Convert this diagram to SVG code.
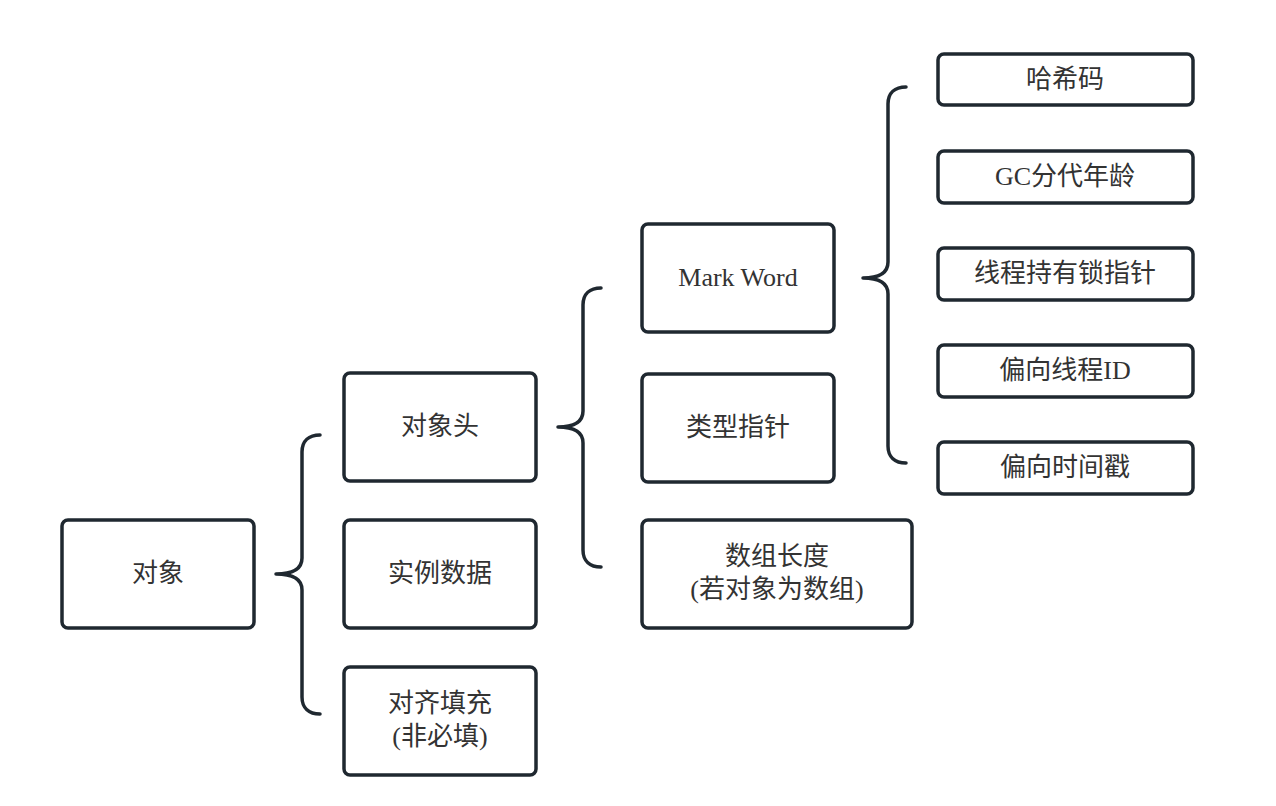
<svg xmlns="http://www.w3.org/2000/svg" width="1276" height="806" viewBox="0 0 1276 806">
<style>
.box{fill:#fff;stroke:#1f2830;stroke-width:3.5}
.t{font-family:"Liberation Serif","Noto Sans CJK SC",serif;font-size:26px;fill:#333;text-anchor:middle;dominant-baseline:central}
.br{fill:none;stroke:#1f2830;stroke-width:3.5;stroke-linecap:round;stroke-linejoin:round}
</style>
<rect width="1276" height="806" fill="#fff"/>
<g id="connectors">
<path class="br" d="M320 435 C309 435 302 441 302 452 L302 558 C302 568 294 574 276 574 C294 574 302 580 302 590 L302 697 C302 708 309 714 320 714"/>
<path class="br" d="M601 288 C590 288 583 294 583 305 L583 411 C583 421 575 427 558 427 C575 427 583 433 583 443 L583 550 C583 561 590 567 601 567"/>
<path class="br" d="M906 87 C895 87 888 93 888 104 L888 262 C888 272 880 278 863 278 C880 278 888 284 888 294 L888 446 C888 457 895 463 906 463"/>
</g>
<g id="n-duixiang"><rect class="box" x="62" y="520" width="192" height="108" rx="6"/><text class="t" x="158" y="573">对象</text></g>
<g id="n-duixiangtou"><rect class="box" x="344" y="373" width="192" height="108" rx="6"/><text class="t" x="440" y="426">对象头</text></g>
<g id="n-shilishuju"><rect class="box" x="344" y="520" width="192" height="108" rx="6"/><text class="t" x="440" y="573">实例数据</text></g>
<g id="n-duiqitianchong"><rect class="box" x="344" y="667" width="192" height="108" rx="6"/><text class="t" x="440" y="703">对齐填充</text><text class="t" x="440" y="736">(非必填)</text></g>
<g id="n-markword"><rect class="box" x="642" y="224" width="192" height="108" rx="6"/><text class="t" x="738" y="277">Mark Word</text></g>
<g id="n-leixingzhizhen"><rect class="box" x="642" y="374" width="192" height="108" rx="6"/><text class="t" x="738" y="427">类型指针</text></g>
<g id="n-shuzuchangdu"><rect class="box" x="642" y="520" width="270" height="108" rx="6"/><text class="t" x="777" y="556">数组长度</text><text class="t" x="777" y="589">(若对象为数组)</text></g>
<g id="n-haxima"><rect class="box" x="938" y="54" width="255" height="51" rx="6"/><text class="t" x="1065" y="79">哈希码</text></g>
<g id="n-gc"><rect class="box" x="938" y="151" width="255" height="52" rx="6"/><text class="t" x="1065" y="176">GC分代年龄</text></g>
<g id="n-suo"><rect class="box" x="938" y="248" width="255" height="52" rx="6"/><text class="t" x="1065" y="273">线程持有锁指针</text></g>
<g id="n-pianxiangid"><rect class="box" x="938" y="345" width="255" height="52" rx="6"/><text class="t" x="1065" y="370">偏向线程ID</text></g>
<g id="n-shijianchuo"><rect class="box" x="938" y="442" width="255" height="52" rx="6"/><text class="t" x="1065" y="467">偏向时间戳</text></g>
</svg>
